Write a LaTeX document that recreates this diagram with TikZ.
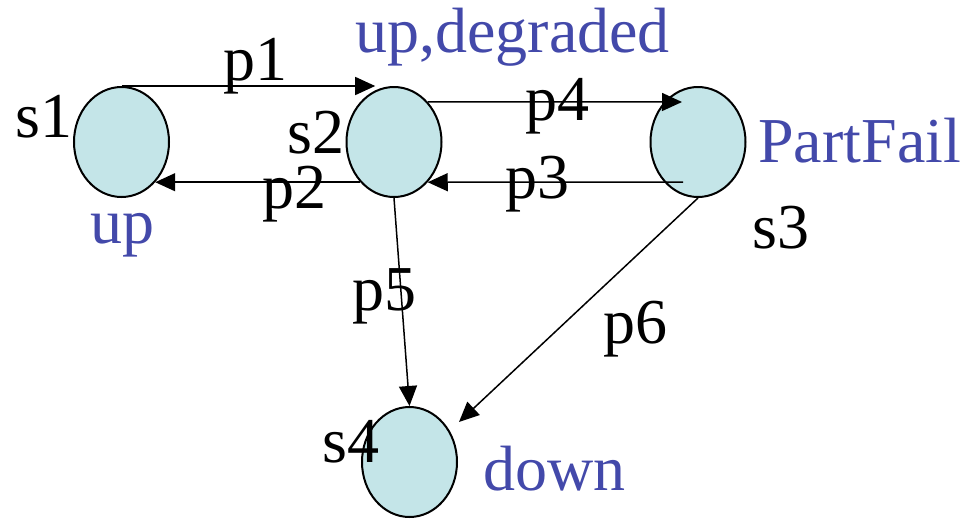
\documentclass[tikz,border=0pt]{standalone}
\usepackage{fontspec}
\setmainfont{Liberation Serif}
\usetikzlibrary{arrows.meta,shapes.geometric,calc}
\definecolor{stateblue}{RGB}{67,73,170}
\definecolor{statefill}{RGB}{196,229,232}

\begin{document}
\begin{tikzpicture}[
  x=0.5pt, y=-0.5pt,
  font=\fontsize{32}{38}\selectfont,
  >={Triangle[length=10pt,width=9pt]},
  stnode/.style={ellipse, draw=black, line width=1pt, fill=statefill, minimum width=47.5pt, minimum height=55pt, inner sep=0pt},
  trmap/.style={->, draw=black, line width=0.75pt},
  txtlbl/.style={anchor=base west, inner sep=0pt},
  condlbl/.style={txtlbl, text=stateblue}
]
  \useasboundingbox (0,0) rectangle (966,520);
  \node[stnode] (s1) at (121.5,142) {};
  \node[stnode] (s2) at (394,142) {};
  \node[stnode] (s3) at (698,142) {};
  \node[stnode] (s4) at (409.5,462) {};
  \coordinate (p4end) at ($(s3)+(-16,-40)$);
  \coordinate (p3start) at ($(s3)+(-15,40)$);
  \coordinate (p6end) at ($(s4)+(49.5,-40)$);
  \draw[trmap] (s1.north) -- (s1.north -| s2.110);
  \draw[trmap] (s2.230) -- (s1.-50);
  \draw[trmap] (s2.50) -- (p4end);
  \draw[trmap] (p3start) -- (s2.-50);
  \draw[trmap] (s2.south) -- (s4.north);
  \draw[trmap] (s3.south) -- (p6end);
  % state names and transition labels
  \node[txtlbl] (s1name) at (15,137) {s1};
  \node[txtlbl] (s2name) at (287,153) {s2};
  \node[txtlbl] (s3name) at (752,248) {s3};
  \node[txtlbl] (s4name) at (322,462) {s4};
  \node[txtlbl] (p1lbl) at (223,80) {p1};
  \node[txtlbl] (p2lbl) at (262,208) {p2};
  \node[txtlbl] (p3lbl) at (505,198) {p3};
  \node[txtlbl] (p4lbl) at (525,120) {p4};
  \node[txtlbl] (p5lbl) at (352,310) {p5};
  \node[txtlbl] (p6lbl) at (603,343) {p6};
  % conditions
  \node[condlbl] (s1cond) at (90,243) {up};
  \node[condlbl] (s2cond) at (355,52) {up,degraded};
  \node[condlbl] (s3cond) at (758,162) {PartFail};
  \node[condlbl] (s4cond) at (483,490) {down};
\end{tikzpicture}
\end{document}
